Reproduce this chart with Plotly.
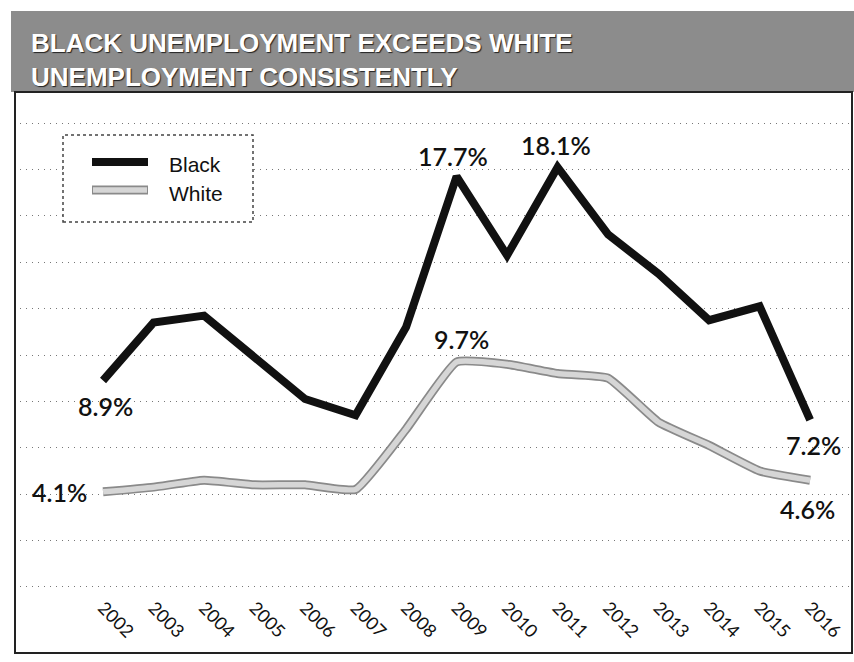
import plotly.graph_objects as go

# Unemployment rate (%) by year
years = list(range(2002, 2017))
black_rate = [8.9, 11.4, 11.7, 9.9, 8.1, 7.4, 11.2, 17.7, 14.3, 18.1, 15.2, 13.5, 11.5, 12.1, 7.2]
white_rate = [4.1, 4.3, 4.6, 4.4, 4.4, 4.2, 6.8, 9.7, 9.6, 9.2, 9.0, 7.1, 6.1, 5.0, 4.6]

# Values called out on the chart: (series, year, offset x, offset y)
callouts = [
    ("black", 2002, 2, -25),
    ("black", 2009, -4, 20),
    ("black", 2011, -2, 22),
    ("black", 2016, 3, -25),
    ("white", 2002, -44, 0),
    ("white", 2009, 5, 23),
    ("white", 2016, -3, -29),
]

title_lines = ["BLACK UNEMPLOYMENT EXCEEDS WHITE", "UNEMPLOYMENT CONSISTENTLY"]
legend_names = ["Black", "White"]

W, H = 854, 662
L, R, T, B = 20, 4, 122, 74
PW, PH = W - L - R, H - T - B


def px(x):
    return (x - L) / PW


def py(y):
    return (H - B - y) / PH


BLACK = "#111111"
WHITE_EDGE = "#8a8a8a"
WHITE_FILL = "#d6d6d6"
TEXT_FONT = "Lato, 'Noto Sans', sans-serif"

fig = go.Figure()

# light series: grey outline with a pale core
fig.add_trace(go.Scatter(x=years, y=white_rate, mode="lines",
                         line=dict(color=WHITE_EDGE, width=9, shape="spline", smoothing=0.4),
                         showlegend=False, hoverinfo="skip"))
fig.add_trace(go.Scatter(x=years, y=white_rate, mode="lines", name=legend_names[1],
                         line=dict(color=WHITE_FILL, width=5.5, shape="spline", smoothing=0.4),
                         showlegend=False))
fig.add_trace(go.Scatter(x=years, y=black_rate, mode="lines", name=legend_names[0],
                         line=dict(color=BLACK, width=8),
                         showlegend=False))

series = {"black": black_rate, "white": white_rate}
for name, yr, dx, dy in callouts:
    v = series[name][years.index(yr)]
    fig.add_annotation(x=yr, y=v, xref="x", yref="y", text=f"{v:.1f}%",
                       showarrow=False, xshift=dx, yshift=dy,
                       font=dict(family=TEXT_FONT, size=25, color="#111111", weight=600))

shapes = []
# title banner
shapes.append(dict(type="rect", xref="paper", yref="paper",
                   x0=px(11), x1=px(854), y0=py(92), y1=py(11),
                   fillcolor="#8c8c8c", line=dict(width=0), layer="below"))
# frame around the chart
shapes.append(dict(type="rect", xref="paper", yref="paper",
                   x0=px(15), x1=px(852), y0=py(653), y1=py(92),
                   fillcolor="rgba(0,0,0,0)", line=dict(color="#222222", width=2), layer="above"))
# legend box
shapes.append(dict(type="rect", xref="paper", yref="paper",
                   x0=px(63), x1=px(253), y0=py(222), y1=py(135),
                   fillcolor="white", line=dict(color="#444444", width=1.5, dash="dot"), layer="above"))
# legend samples
shapes.append(dict(type="line", xref="paper", yref="paper",
                   x0=px(92), x1=px(148), y0=py(162), y1=py(162),
                   line=dict(color=BLACK, width=8), layer="above"))
shapes.append(dict(type="line", xref="paper", yref="paper",
                   x0=px(92), x1=px(148), y0=py(190), y1=py(190),
                   line=dict(color=WHITE_EDGE, width=9), layer="above"))
shapes.append(dict(type="line", xref="paper", yref="paper",
                   x0=px(93), x1=px(147), y0=py(190), y1=py(190),
                   line=dict(color=WHITE_FILL, width=5.5), layer="above"))

for name, yc in zip(legend_names, [164, 193]):
    fig.add_annotation(x=px(167), y=py(yc), xref="paper", yref="paper", text=name,
                       showarrow=False, xanchor="left", yanchor="middle",
                       font=dict(family="'Liberation Sans', Arial, sans-serif", size=21, color="#111111"))

fig.add_annotation(x=px(29), y=py(60), xref="paper", yref="paper",
                   text="<br>".join(title_lines), showarrow=False,
                   xanchor="left", yanchor="middle", align="left",
                   font=dict(family="'Liberation Sans', Arial, sans-serif",
                             size=26, color="white", weight="bold", shadow="1px 1px 1px #222"))

fig.update_layout(
    width=W, height=H,
    margin=dict(l=L, r=R, t=T, b=B, autoexpand=False),
    paper_bgcolor="white", plot_bgcolor="white",
    showlegend=False,
    shapes=shapes,
    xaxis=dict(range=[2000.356, 2016.79], tickmode="array", tickvals=years,
               ticktext=[str(y) for y in years], tickangle=45, showgrid=False,
               zeroline=False, showline=False, ticks="", ticklabelstandoff=5,
               tickfont=dict(family=TEXT_FONT, size=18, color="#111111")),
    yaxis=dict(range=[-0.05, 20.05], tickmode="linear", tick0=0, dtick=2, showticklabels=False,
               showgrid=True, gridcolor="#777777", gridwidth=1, griddash="1px,5px",
               zeroline=False, showline=False, ticks=""),
)

fig.write_html("out.html")
